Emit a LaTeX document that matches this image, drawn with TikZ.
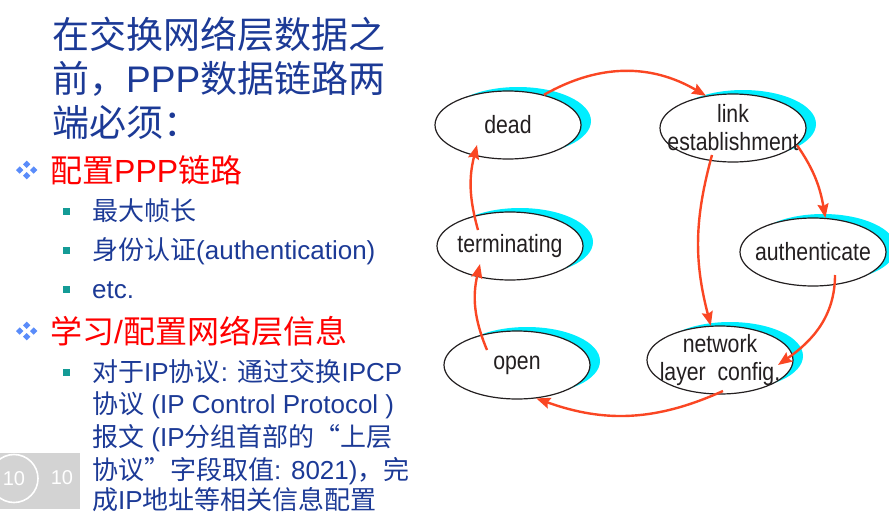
\documentclass[tikz,border=0pt]{standalone}
\usepackage{fontspec}
\setmainfont{Liberation Sans}
\newfontfamily\cjk{Noto Sans CJK SC}
\newfontfamily\statefont[FakeStretch=0.85]{Liberation Sans}
\usetikzlibrary{shapes.geometric,shadows,arrows.meta,calc}
\definecolor{slideblue}{RGB}{28,58,150}
\definecolor{slidered}{RGB}{255,0,0}
\definecolor{bulletblue}{RGB}{90,140,250}
\definecolor{bulletteal}{RGB}{20,155,150}
\definecolor{transred}{RGB}{250,70,35}
\definecolor{shadowcyan}{RGB}{0,238,255}
\definecolor{outline}{RGB}{35,31,32}
\definecolor{pagegray}{RGB}{211,211,211}
\tikzset{
  state/.style={ellipse, draw=outline, line width=1.2pt, fill=white,
    minimum width=146pt, minimum height=68pt, inner xsep=-30pt, inner ysep=-12pt,
    align=center, text=outline, font=\statefont\fontsize{25}{28}\selectfont,
    drop shadow={shadow xshift=10pt, shadow yshift=4pt, fill=shadowcyan, opacity=1}},
  trans/.style={draw=transred, line width=2.4pt,
    -{Stealth[length=14pt,width=11pt,inset=2pt]}},
  slidetitle/.style={anchor=base west, inner sep=0pt, text=slideblue,
    font=\fontsize{37}{44}\selectfont},
  topicline/.style={anchor=base west, inner sep=0pt, text=slidered,
    font=\fontsize{32}{38}\selectfont},
  itemline/.style={anchor=base west, inner sep=0pt, text=slideblue,
    font=\fontsize{26}{32}\selectfont},
  pagenum/.style={inner sep=0pt, text=white, font=\fontsize{20}{24}\selectfont},
}
\begin{document}
\begin{tikzpicture}[x=1pt, y=1pt]
  \useasboundingbox (0,0) rectangle (889,-522);
  % left column
  \node[slidetitle] (title1) at (52,-48) {\cjk 在交换网络层数据之};
  \node[slidetitle] (title2) at (52,-92) {{\cjk 前，}PPP{\cjk 数据链路两}};
  \node[slidetitle] (title3) at (52,-136) {\cjk 端必须：};
  \foreach \y in {-170,-331}
    \foreach \dx/\dy in {0/5.7, -7/0, 7/0, 0/-5.7}
      \fill[bulletblue] (26.7+\dx,\y+\dy+3.7) -- ++(3.7,-3.7) -- ++(-3.7,-3.7) -- ++(-3.7,3.7) -- cycle;
  \node[topicline] (topic1) at (50,-182) {{\cjk 配置}PPP{\cjk 链路}};
  \foreach \y in {-211.5,-250,-289,-372.5}
    \fill[bulletteal] (63,\y+3.5) rectangle (70,\y-3.5);
  \node[itemline] (item1) at (92,-220) {\cjk 最大帧长};
  \node[itemline] (item2) at (92,-259) {{\cjk 身份认证}(authentication)};
  \node[itemline] (item3) at (92,-298) {etc.};
  \node[topicline] (topic2) at (50,-343) {{\cjk 学习}/{\cjk 配置网络层信息}};
  \node[itemline] (item4) at (92,-381) {{\cjk 对于}IP{\cjk 协议}: {\cjk 通过交换}IPCP};
  \node[itemline] (item5) at (92,-413) {{\cjk 协议} (IP Control Protocol )};
  \node[itemline] (item6) at (92,-446) {{\cjk 报文} (IP{\cjk 分组首部的“上层}};
  \node[itemline] (item7) at (92,-479) {{\cjk 协议”字段取值}: 8021){\cjk ，完}};
  \node[itemline] (item8) at (92,-509) {{\cjk 成}IP{\cjk 地址等相关信息配置}};
  % page number
  \fill[pagegray] (0,-453) rectangle (80,-509);
  \node[pagenum, circle, draw=white, line width=1.6pt, minimum size=48pt] (pagecircle) at (14,-478.5) {10};
  \node[pagenum] (pagetext) at (62,-478) {10};
  % PPP states
  \node[state] (dead) at (508,-125) {dead};
  \node[state] (link) at (733,-128) {link\\establishment};
  \node[state] (terminating) at (510,-246) {terminating};
  \node[state] (authenticate) at (813,-252) {authenticate};
  \node[state] (open) at (517,-365) {open};
  \node[state] (network) at (720,-360) {network\\layer \ config.};
  % transitions
  \draw[trans] (dead.40) to[bend left=30] (link.130);
  \draw[trans] (link.-15) to[out=-55,in=100] (authenticate.70);
  \draw[trans] ($(link.center)+(-21,-27)$) to[bend right=15] (network.105);
  \draw[trans] ($(authenticate.center)+(22,-23)$) to[out=-90,in=35] ($(network.center)+(58,-5)$);
  \draw[trans] ($(network.center)+(3,-31)$) to[bend left=22] (open.-60);
  \draw[trans] ($(open.center)+(-30,15)$) to[bend left=18] ($(terminating.center)+(-30,-18)$);
  \draw[trans] ($(terminating.center)+(-32,16)$) to[bend left=15] ($(dead.center)+(-31,-20)$);
\end{tikzpicture}
\end{document}
